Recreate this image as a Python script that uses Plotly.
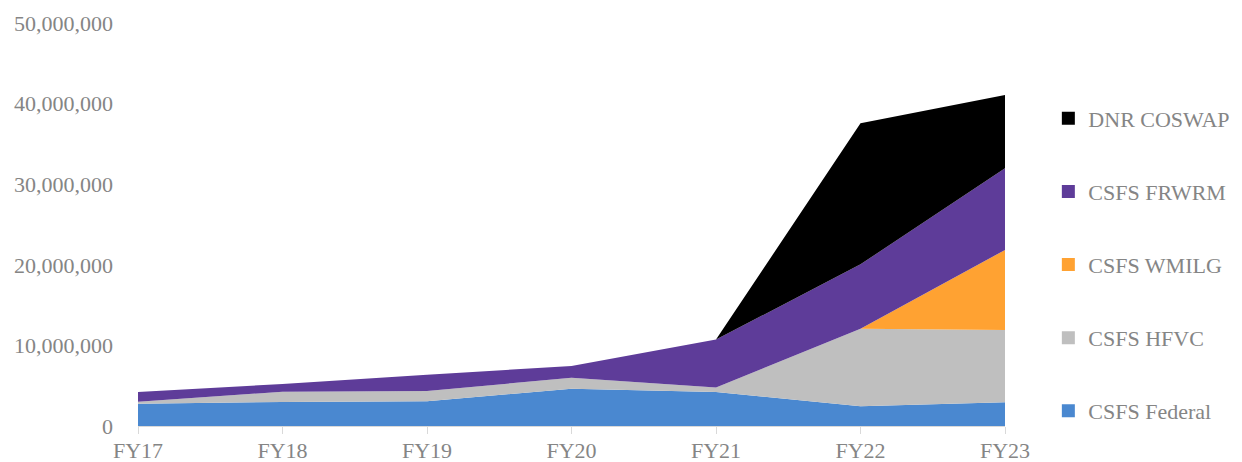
import plotly.graph_objects as go

years = ["FY17", "FY18", "FY19", "FY20", "FY21", "FY22", "FY23"]
csfs_federal = [2770000, 2980000, 3060000, 4630000, 4220000, 2440000, 2940000]
csfs_hfvc = [250000, 1280000, 1280000, 1360000, 550000, 9630000, 8970000]
csfs_wmilg = [0, 0, 0, 0, 0, 0, 9930000]
csfs_frwrm = [1200000, 950000, 2030000, 1440000, 5950000, 7990000, 10130000]
dnr_coswap = [0, 0, 0, 0, 0, 17500000, 9100000]

series = [
    ("CSFS Federal", csfs_federal, "#4a88d0"),
    ("CSFS HFVC", csfs_hfvc, "#bfbfbf"),
    ("CSFS WMILG", csfs_wmilg, "#ffa232"),
    ("CSFS FRWRM", csfs_frwrm, "#5e3c99"),
    ("DNR COSWAP", dnr_coswap, "#000000"),
]

fig = go.Figure()
for name, vals, col in series:
    fig.add_trace(go.Scatter(
        x=years, y=vals, name=name, stackgroup="one", mode="none",
        fillcolor=col, showlegend=False, hoverinfo="skip",
    ))
n = len(series)
for i, (name, vals, col) in enumerate(series):
    fig.add_trace(go.Scatter(
        x=[None], y=[None], name=name, mode="markers",
        marker=dict(symbol="square", size=13, color=col),
        legendgroup=name, legendrank=n - i, hoverinfo="skip",
    ))

font_family = "Liberation Serif, Times New Roman, serif"
fig.update_layout(
    width=1242, height=462,
    margin=dict(l=138, r=237, t=23, b=36, autoexpand=False),
    paper_bgcolor="white", plot_bgcolor="white",
    font=dict(family=font_family, size=22, color="#858585"),
    showlegend=True,
    legend=dict(
        x=1.05, xanchor="left", y=0.815, yanchor="top",
        traceorder="grouped", tracegroupgap=41.5,
        font=dict(family=font_family, size=22, color="#858585"),
        itemwidth=30,
    ),
    xaxis=dict(
        type="category", range=[0, 6], showgrid=False,
        showline=True, linecolor="#d9d9d9", linewidth=1,
        ticks="outside", ticklen=7, tickcolor="#d9d9d9",
        tickfont=dict(size=22, color="#858585"), zeroline=False,
        ticklabelstandoff=-2,
    ),
    yaxis=dict(
        range=[0, 50000000], dtick=10000000, showgrid=False,
        zeroline=False, showline=False, tickformat=",d",
        tickfont=dict(size=22, color="#858585"), ticklabelstandoff=24,
    ),
)

fig.write_html("out.html")
